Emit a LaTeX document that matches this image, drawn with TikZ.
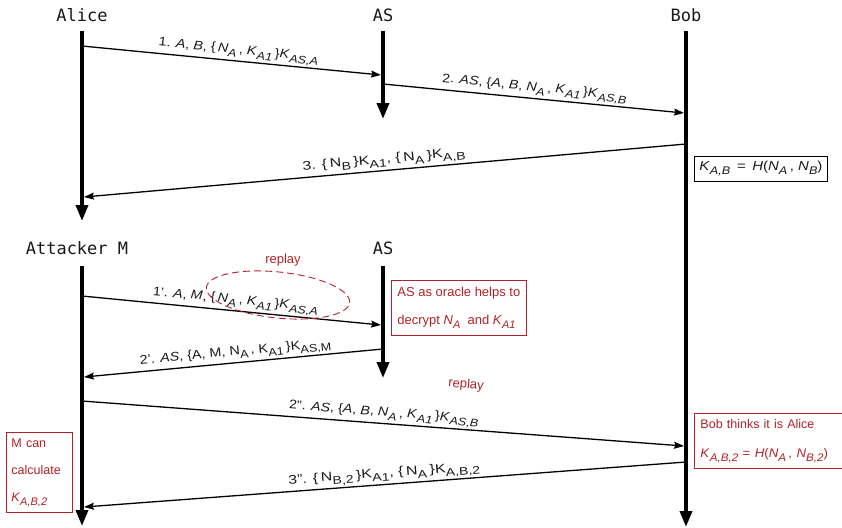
\documentclass[tikz,border=0pt]{standalone}
\usepackage{fontspec}
\usepackage{graphicx}
\setmainfont{Liberation Sans}
\newfontfamily\actorfont{DejaVu Sans Mono}
\usetikzlibrary{arrows.meta,shapes.geometric}
\definecolor{myred}{RGB}{178,34,40}
\definecolor{ink}{RGB}{25,25,25}
\newcommand\mi[1]{\textit{#1}}
\newcommand\sbx[1]{\raisebox{-4pt}{\fontsize{11}{12}\selectfont\textit{#1}}}
\newcommand\sbu[1]{\raisebox{-4pt}{\fontsize{11}{12}\selectfont #1}}
\newcommand\lb{\{\,}
\newcommand\rb{\,\}}
\newcommand\wide[1]{\scalebox{1.15}[1]{#1}}
\newcommand\wider[1]{\scalebox{1.28}[1]{#1}}
\begin{document}
\begin{tikzpicture}[x=1pt,y=-1pt,
  actor/.style={font=\actorfont\fontsize{17}{20}\selectfont, text=ink, inner sep=0pt},
  life/.style={line width=3.6pt, draw=black, -{Triangle[width=12pt,length=16pt]}},
  msg/.style={line width=1.3pt, draw=black, -{Stealth[length=10pt,width=7pt,inset=1.5pt]}},
  lbl/.style={font=\fontsize{12.5}{14}\selectfont, text=ink, sloped, above, inner sep=1.5pt},
  redbox/.style={draw=myred, line width=0.9pt, text=myred, align=left, inner xsep=6pt, inner ysep=7pt},
  redtxt/.style={text=myred, font=\fontsize{13}{15}\selectfont, inner sep=0pt},
  blackbox/.style={draw=black, line width=0.9pt, text=ink, inner xsep=5pt, inner ysep=5pt, font=\fontsize{13}{14}\selectfont}
]
\useasboundingbox (0,0) rectangle (842,527);
% actors
\node[actor] (alice) at (82,15) {Alice};
\node[actor] (as1) at (383,15) {AS};
\node[actor] (bob) at (686,15) {Bob};
\node[actor] (att) at (77,248) {Attacker M};
\node[actor] (as2) at (383,248) {AS};
% lifeline ends
\coordinate (aliceEnd) at (82,221);
\coordinate (as1End) at (383,119);
\coordinate (bobEnd) at (686,527);
\coordinate (attEnd) at (82,526);
\coordinate (as2End) at (383,378);
\draw[life] (82,31) -- (aliceEnd);
\draw[life] (383,31) -- (as1End);
\draw[life] (686,31) -- (bobEnd);
\draw[life] (82,266) -- (attEnd);
\draw[life] (383,266) -- (as2End);
% message points
\coordinate (m1s) at (82,46);   \coordinate (m1e) at (381,75);
\coordinate (m2s) at (383,84);  \coordinate (m2e) at (684,113);
\coordinate (m3s) at (686,144); \coordinate (m3e) at (84,197);
\coordinate (n1s) at (82,296);  \coordinate (n1e) at (381,325);
\coordinate (n2s) at (383,349); \coordinate (n2e) at (84,377);
\coordinate (n3s) at (82,401);  \coordinate (n3e) at (684,446);
\coordinate (n4s) at (686,462); \coordinate (n4e) at (84,507);
% messages
\draw[msg] (m1s) -- node[lbl, pos=0.52] {\wide{1. \mi{A}, \mi{B}, \lb\mi{N}\sbx{A}\,, \mi{K}\sbx{A1}\rb\mi{K}\sbx{AS,A}}} (m1e);
\draw[msg] (m2s) -- node[lbl, pos=0.5] {\wide{2. \mi{AS}, \{\mi{A}, \mi{B}, \mi{N}\sbx{A}\,, \mi{K}\sbx{A1}\rb\mi{K}\sbx{AS,B}}} (m2e);
\draw[msg] (m3s) -- node[lbl, pos=0.5] {\wider{3. \lb N\sbu{B}\rb K\sbu{A1}, \lb N\sbu{A}\rb K\sbu{A,B}}} (m3e);
\draw[msg] (n1s) -- node[lbl, pos=0.51] {\wide{1'. \mi{A}, \mi{M}, \lb\mi{N}\sbx{A}\,, \mi{K}\sbx{A1}\rb\mi{K}\sbx{AS,A}}} (n1e);
\draw[msg] (n2s) -- node[lbl, pos=0.49] {\wide{2'. \mi{AS}, \{A, M, N\sbu{A}\,, K\sbu{A1}\rb K\sbu{AS,M}}} (n2e);
\draw[msg] (n3s) -- node[lbl, pos=0.5] {\wide{2''. \mi{AS}, \{\mi{A}, \mi{B}, \mi{N}\sbx{A}\,, \mi{K}\sbx{A1}\rb\mi{K}\sbx{AS,B}}} (n3e);
\draw[msg] (n4s) -- node[lbl, pos=0.5] {\wider{3''. \lb N\sbu{B,2}\rb K\sbu{A1}, \lb N\sbu{A}\rb K\sbu{A,B,2}}} (n4e);
% boxes
\node[blackbox, anchor=north west] (kab) at (694,156) {\wide{\mi{K}\sbx{A,B} \,=\, \mi{H}(\mi{N}\sbx{A}\,, \mi{N}\sbx{B})}};
\node[draw=myred, dashed, dash pattern=on 7pt off 4pt, line width=0.9pt, ellipse, minimum width=144pt, minimum height=46pt, rotate=-6, inner sep=0pt] (ell) at (278,295) {};
\node[redtxt] (rep1) at (283,260) {replay};
\node[redtxt, rotate=-5] (rep2) at (466,385) {replay};
\node[redbox, anchor=north west, font=\fontsize{13}{28}\selectfont] (oracle) at (391,280) {AS as oracle helps to\\decrypt \mi{N}\sbx{A}\; and \mi{K}\sbx{A1}};
\node[redbox, anchor=north west, font=\fontsize{12.5}{29}\selectfont, text width=140pt, inner ysep=6pt] (bobth) at (694,413) {Bob thinks it is Alice\\\scalebox{1.06}[1]{\mi{K}\sbx{A,B,2} = \mi{H}(\mi{N}\sbx{A}\,, \mi{N}\sbx{B,2})}};
\node[redbox, anchor=north west, font=\fontsize{12.5}{27}\selectfont, inner xsep=5pt, inner ysep=6pt, text width=56pt] (mcan) at (6,432) {M can\\calculate\\\mi{K}\sbx{A,B,2}};
\end{tikzpicture}
\end{document}
